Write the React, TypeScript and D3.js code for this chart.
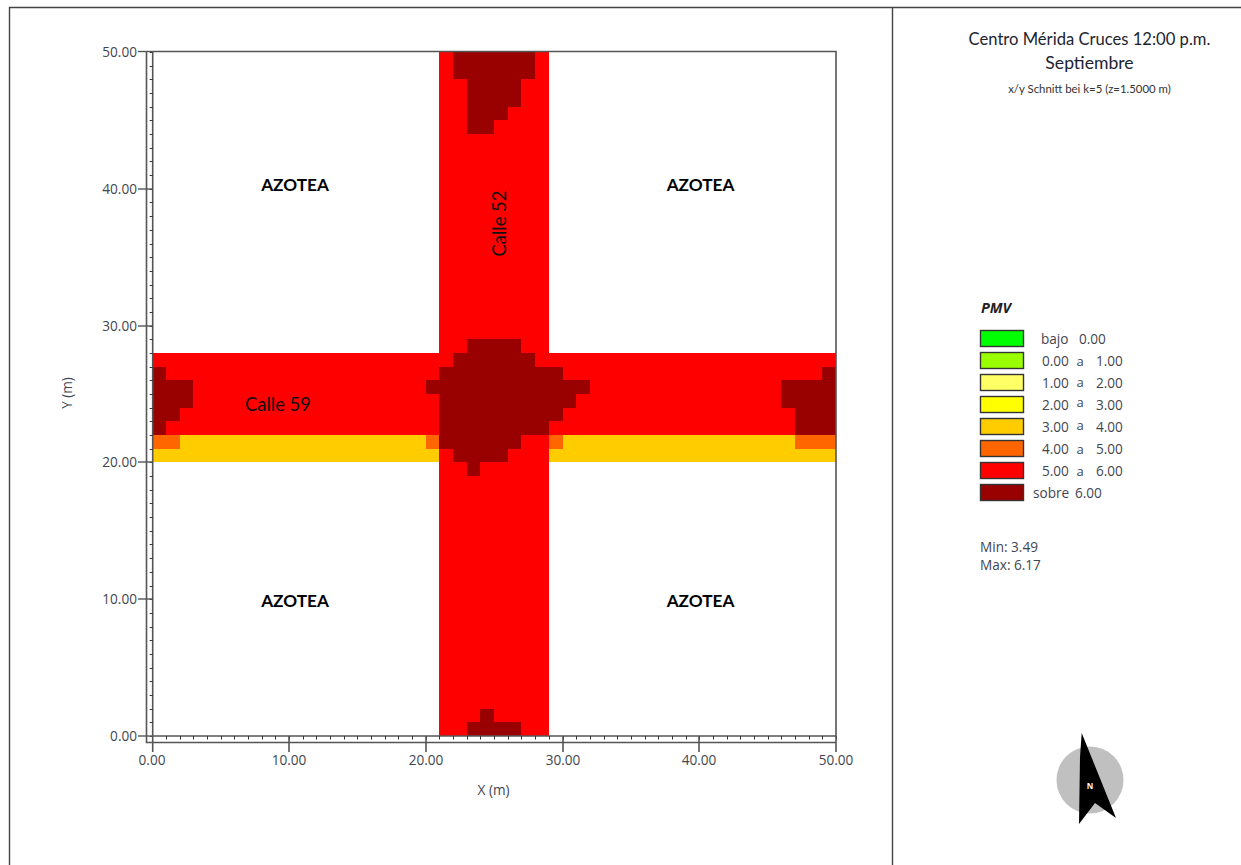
import React from "react";
import * as d3 from "d3";

// PMV classes, lowest first
const classColors = ["#00ff00", "#99ff00", "#ffff66", "#ffff00", "#ffcc00", "#ff6600", "#ff0000", "#990000"];
const legendLeft = ["bajo", "0.00", "1.00", "2.00", "3.00", "4.00", "5.00", "sobre"];
const legendRight = ["0.00", "1.00", "2.00", "3.00", "4.00", "5.00", "6.00", "6.00"];
const xTicks = [0, 10, 20, 30, 40, 50];
const yTicks = [0, 10, 20, 30, 40, 50];
const minorSteps = d3.range(0, 51);

// Runs of grid cells with one PMV class: [class, row (Y m), first X, last X exclusive]
const streetEWRows = [20, 21, 22, 23, 24, 25, 26, 27];
const streetNSRows = d3.range(0, 50);
const amberRuns = [[4, 20, 0, 50], [4, 21, 0, 50]];
const orangeRuns = [[5, 21, 0, 2], [5, 21, 20, 21], [5, 21, 29, 30], [5, 21, 47, 50]];
const darkRuns = [
  [7, 0, 23, 27], [7, 1, 24, 25],
  [7, 19, 23, 24], [7, 20, 22, 26], [7, 21, 21, 27], [7, 22, 21, 29], [7, 23, 21, 30],
  [7, 24, 21, 31], [7, 25, 20, 32], [7, 26, 21, 30], [7, 27, 22, 28], [7, 28, 23, 27],
  [7, 44, 23, 25], [7, 45, 23, 26], [7, 46, 23, 27], [7, 47, 23, 27], [7, 48, 22, 28], [7, 49, 22, 28],
  [7, 22, 0, 1], [7, 23, 0, 2], [7, 24, 0, 3], [7, 25, 0, 3], [7, 26, 0, 1],
  [7, 22, 47, 50], [7, 23, 47, 50], [7, 24, 46, 50], [7, 25, 46, 50], [7, 26, 49, 50],
];

const W = 1241, H = 865;
const AX = "#555";
const TXT = "#3f4650";
const sans = "'Open Sans', 'Noto Sans', sans-serif";
const lato = "Lato, sans-serif";

export default function App() {
  const x = d3.scaleLinear().domain([0, 50]).rangeRound([152.3, 836]);
  const y = d3.scaleLinear().domain([0, 50]).rangeRound([736, 52]);
  const xAxis0 = x(0) + 0.7;

  const grid = new Map<string, number>();
  const put = (c: number, r: number, a: number, b: number) => {
    d3.range(a, b).forEach((i) => grid.set(`${i},${r}`, c));
  };
  streetEWRows.forEach((r) => put(6, r, 0, 50));
  streetNSRows.forEach((r) => put(6, r, 21, 29));
  amberRuns.forEach(([c, r, a, b]) => put(c, r, a, b));
  // the N-S street stays red in the amber band
  [20, 21].forEach((r) => put(6, r, 21, 29));
  orangeRuns.forEach(([c, r, a, b]) => put(c, r, a, b));
  darkRuns.forEach(([c, r, a, b]) => put(c, r, a, b));

  const cells = Array.from(grid.entries()).map(([k, c]) => {
    const [i, r] = k.split(",").map(Number);
    return { i, r, c };
  });

  return (
    <svg width={W} height={H} style={{ position: "absolute", left: 0, top: 0, background: "#fff" }}>
      {/* page frame */}
      <path d={`M9.5 ${H}V7.5H${W}M892.5 7.5V${H}`} fill="none" stroke="#444" strokeWidth={1.4} />

      {/* cells */}
      <g shapeRendering="crispEdges">
        {cells.map((d) => (
          <rect
            key={`${d.i}-${d.r}`}
            x={x(d.i)}
            y={y(d.r + 1)}
            width={x(d.i + 1) - x(d.i)}
            height={y(d.r) - y(d.r + 1)}
            fill={classColors[d.c]}
          />
        ))}
      </g>

      {/* axes */}
      <g stroke={AX} fill="none">
        <path d={`M146.5 ${y(50) - 0.5}V742.5H${x(50)}`} strokeWidth={1.6} />
        <path d={`M${xAxis0} ${y(50) - 0.5}V${y(0)}H${x(50)}V${y(50) - 0.5}H${xAxis0}`} strokeWidth={1.6} />
        {minorSteps.map((m) => (
          <g key={m} stroke="#333" strokeWidth={1}>
            <path d={`M${x(m) + 0.5} ${y(0)}v3.5`} />
            <path d={`M${xAxis0 - 3} ${y(m) + 0.5}h3`} />
          </g>
        ))}
        {xTicks.map((t) => (
          <path key={t} d={`M${t === 0 ? xAxis0 : x(t)} ${y(0)}V752`} strokeWidth={1.6} />
        ))}
        {yTicks.map((t) => (
          <path key={t} d={`M138 ${t === 50 ? y(t) - 0.5 : y(t)}H${xAxis0}`} strokeWidth={1.4} />
        ))}
      </g>

      {/* tick labels */}
      <g fontFamily={sans} fontSize={13.6} fill={TXT}>
        {xTicks.map((t) => (
          <text key={t} x={x(t)} y={765} textAnchor="middle">{t.toFixed(2)}</text>
        ))}
        {yTicks.map((t) => (
          <text key={t} x={137} y={y(t) + 5} textAnchor="end">{t.toFixed(2)}</text>
        ))}
        <text x={493.5} y={795} textAnchor="middle">X (m)</text>
        <text transform="translate(72,393) rotate(-90)" textAnchor="middle">Y (m)</text>
      </g>

      {/* annotations */}
      <g fontFamily={lato} fontWeight={700} fontSize={17.2} fill="#000" textAnchor="middle">
        <text x={295} y={190.5}>AZOTEA</text>
        <text x={700.5} y={190.5}>AZOTEA</text>
        <text x={295} y={606.5}>AZOTEA</text>
        <text x={700.5} y={606.5}>AZOTEA</text>
      </g>
      <g fontFamily={lato} fontSize={18.4} fill="#111" textAnchor="middle">
        <text x={278} y={411}>Calle 59</text>
        <text transform="translate(506,223.5) rotate(-90)">Calle 52</text>
      </g>

      {/* titles */}
      <g fontFamily={lato} fill="#1c2430" textAnchor="middle">
        <text x={1089.5} y={45} fontSize={16.6}>Centro Mérida Cruces 12:00 p.m.</text>
        <text x={1089.5} y={69} fontSize={17.6}>Septiembre</text>
        <text x={1089.5} y={93} fontSize={11.4} fill="#333">x/y Schnitt bei k=5 (z=1.5000 m)</text>
      </g>

      {/* legend */}
      <text x={981} y={313} fontFamily={sans} fontSize={14.5} fontWeight={700} fontStyle="italic" fill="#222">PMV</text>
      {classColors.map((col, i) => {
        const top = 330 + i * 22;
        const base = top + 14;
        const lift = [0, 0, 1, 3, 2, 0, 0, 0][i];
        return (
          <g key={col} fontFamily={sans} fontSize={13.6} fill={TXT}>
            <rect x={980.5} y={top + 0.5} width={43} height={16} fill={col} stroke="#333" strokeWidth={1.4} />
            {i === 0 ? (
              <>
                <text x={1041} y={base}>{legendLeft[i]}</text>
                <text x={1079} y={base}>{legendRight[i]}</text>
              </>
            ) : i === 7 ? (
              <>
                <text x={1033} y={base}>{legendLeft[i]}</text>
                <text x={1075} y={base}>{legendRight[i]}</text>
              </>
            ) : (
              <>
                <text x={1042} y={base}>{legendLeft[i]}</text>
                <text x={1076.5} y={base - lift} fontSize={13}>a</text>
                <text x={1096} y={base}>{legendRight[i]}</text>
              </>
            )}
          </g>
        );
      })}
      <g fontFamily={sans} fontSize={13.6} fill={TXT}>
        <text x={980} y={552}>Min: 3.49</text>
        <text x={980} y={569.5}>Max: 6.17</text>
      </g>

      {/* north arrow */}
      <circle cx={1090} cy={780} r={33.5} fill="#c0c0c0" />
      <path d="M1081.7 733L1116 818L1095 803L1079 824L1080 757Z" fill="#000" />
      <text x={1090} y={789} fontFamily={sans} fontSize={8} fontWeight={700} fill="#fff" textAnchor="middle">N</text>
    </svg>
  );
}
